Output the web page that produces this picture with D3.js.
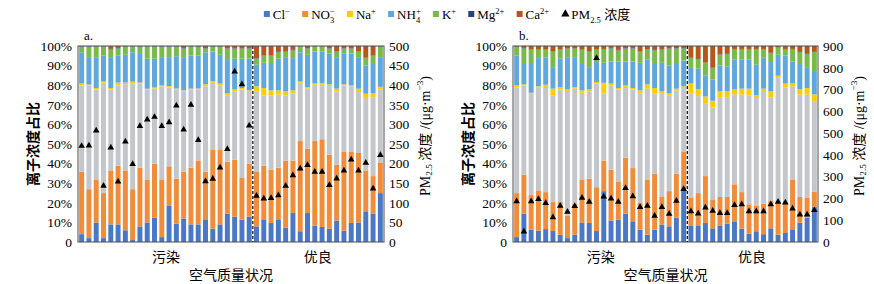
<!DOCTYPE html>
<html lang="zh">
<head>
<meta charset="UTF-8">
<title>离子浓度占比</title>
<script src="https://cdn.jsdelivr.net/npm/d3@7/dist/d3.min.js"></script>
<style>
  body { margin: 0; background: #fff; }
  text { font-family: "Liberation Serif", "Noto Sans CJK SC", serif; fill: #000; }
</style>
</head>
<body>
<svg id="chart" width="874" height="284"></svg>
<script>

// ---- data (% of total ions per sample; PM2.5 in ug/m3) ----
var ions = ["Cl", "NO3", "SO4", "Na", "NH4", "K", "Mg", "Ca"];
var samples = d3.range(1, 43);          // 42 samples per panel, first 24 = 污染
var splitAt = 24;
var groups = ["污染", "优良"];
var pctTicks = [0, 10, 20, 30, 40, 50, 60, 70, 80, 90, 100];
var pctLabels = ["0", "10%", "20%", "30%", "40%", "50%", "60%", "70%", "80%", "90%", "100%"];
var pmTicksA = [0, 50, 100, 150, 200, 250, 300, 350, 400, 450, 500];
var pmTicksB = [0, 100, 200, 300, 400, 500, 600, 700, 800, 900];

var clA  = [4,2,10,2,9,9,6,1,8,10,12.4,2.5,18.7,9.4,12,9,9,11.6,6.8,9,14.5,13,11.4,13,8,11.6,9.7,11.6,7.3,14.8,5.5,14.8,8.3,7.7,6.8,11,5.8,9.7,10,15.7,14.6,25];
var no3A = [32,25,22,23,27.6,30,30.6,26,30,22,27.6,29.5,20,23,24,29,32.7,24.4,40.2,38,26.5,29,21.3,27,27.8,27.4,27.3,26.4,34.3,26.8,46.1,32.9,43.3,44.8,37.8,28.5,40.2,36.3,35.5,20.9,19.1,15.7];
var so4A = [44,53,46,56.5,41.4,41,44.1,54,43,46,38.4,47.6,40.3,45.6,41,40,36.3,43.6,34.4,33,34,35,45.3,36.7,41.2,36,38,37.3,33.4,34.4,29.8,30.7,28.8,27.9,35.1,37.5,34,33.6,31.2,37,40.3,37.3];
var naA  = [1,0.5,0.7,0.5,0.7,1.5,0.8,1,0.5,0.4,0.6,0.4,0.7,0.5,0.5,0.4,0.5,1.1,0.9,1,1,1,0.7,0.8,2.6,3.7,2.5,2.2,2,1.5,0.6,0.8,0.6,0.9,0.9,1.4,0.6,0.4,1.7,2.2,2,1.3];
var nh4A = [16,14,15.8,13.4,15.8,13.9,14.2,15,15.1,15.3,14.7,14.5,14.8,16.5,17,17,16.9,16.3,15.1,14.7,17,15.7,15,16.2,11,12.9,14,16.2,17.5,16.5,15,16.5,16.4,16.1,15.7,16.1,15.9,16.3,16.1,14.5,15,15.2];
var kA   = [3,5.5,5.5,4.6,4,3.6,4.3,3,3.4,6.3,6.3,5.5,5.5,5,4.3,4.6,4.6,1.8,2.6,4.3,5.8,5.1,5.1,5.1,3.1,3.8,3.9,3.3,2.9,4,3,3.1,2.6,2.6,2.5,2.8,2.3,2.5,2.9,3.7,4.4,5.5];
var mgA  = [0.2,0.2,0.2,0.2,0.2,0.2,0.2,0.2,0.2,0.2,0.2,0.2,0.2,0.2,0.2,0.2,0.2,0.2,0.2,0.2,0.2,0.2,0.2,0.2,0.2,0.2,0.2,0.2,0.2,0.2,0.2,0.2,0.2,0.2,0.2,0.2,0.2,0.2,0.2,0.2,0.2,0.2];
var caA  = [0,0,0,0,1.5,1,0,0,0,0,0,0,0,0,1.2,0,0,1.2,0,0,1.2,1.2,1.2,1.2,6.3,4.6,4.6,3,2.6,2,0,1.2,0,0,1.2,2.7,1.2,1.2,2.6,6,4.6,0];
var pmA  = [245,246,284,143,241,154,256,199,296,312,319,296,305,348,287,350,260,155,161,190,237,435,402,297,118,111,112,119,143,170,187,196,179,179,145,162,182,210,182,202,136,222];

var clB  = [2.5,14.5,6.3,5.8,6.6,5.6,3.7,2,3.7,10,9.7,5.6,26,11,11.4,14.5,10.6,6.3,3.7,6.3,8.9,8,12.4,28,8.5,8.5,9.7,7,8.5,9.4,10.6,6.8,4.3,5.5,4,7,3.7,4.6,6.5,9.9,12.4,18];
var no3B = [22.5,19.9,17.7,20.6,18.9,14.8,16.7,11.6,15.9,22,22.7,22.4,15.6,26,19.6,28.5,27.2,13.7,28.3,28.7,14.1,18,22.6,18,14.3,16.5,24,14.8,14.5,13.6,18.9,18.7,15,12.9,15.6,14.3,17.1,16.2,25.5,13.1,10.1,7.6];
var so4B = [54,45.6,51.8,52.5,53.2,54.6,57.6,63.1,58.8,44.3,44.6,53,34.4,43,47,35.7,40.2,56,46.4,40.8,52.8,49,42.5,32.7,53,49.6,37.3,46.9,51,51,46,49.8,55.7,55.2,57.1,52.7,63.5,58.2,47.6,52.3,52.8,46.4];
var naB  = [1,0.6,0.5,0.7,1.7,3.4,1.2,1.3,0.8,1.2,1,0.8,5.4,1,0.7,1.3,0.7,1.5,2.2,2.9,1.2,1,0.9,0.9,5.2,3.4,3.4,3.5,3,3,2.5,3.1,3.4,1.4,1.7,3,0.7,2,1.7,2.7,3.4,3.5];
var nh4B = [15.4,10.4,14.7,14.4,14,11,14.5,16.5,15.3,13.5,11,10.2,10.2,11.3,13.6,12.3,13.6,14.1,12.8,12.8,14.6,14.3,12.6,13.2,8.4,10.6,10.6,10.8,13.3,12.8,15.4,15,15,15.6,15.8,15,10.7,14.4,11,13,10.7,11.9];
var kB   = [4.6,8,7.3,4.3,3.9,8,4.6,4.3,4.3,7.3,8.4,6.3,6.9,6.7,5.7,6.5,6.5,5.8,4.9,6.5,6.7,8.5,7.8,6.2,4.6,4.8,6.6,5.9,5.4,6.2,5.1,5.1,5.1,7.9,4.3,4.6,3.6,3.1,6.2,6,6.6,9.6];
var mgB  = [0.2,0.2,0.2,0.2,0.2,0.2,0.2,0.2,0.2,0.2,0.2,0.2,0.2,0.2,0.2,0.2,0.2,0.2,0.2,0.2,0.2,0.2,0.2,0.2,0.2,0.2,0.2,0.2,0.2,0.2,0.2,0.2,0.2,0.2,0.2,0.2,0.2,0.2,0.2,0.2,0.2,0.2];
var caB  = [0,1,1.7,1.7,1.7,2.6,1.7,1.2,1.2,1.7,2.6,1.7,1.5,1,2,1.2,1.2,2.6,1.7,2,1.7,1.2,1.2,1,6,6.6,8.4,11.1,4.3,4,1.5,1.5,1.5,1.5,1.5,3.4,0.7,1.5,1.5,3,4,3];
var pmB  = [187,48,187,197,179,113,166,139,165,203,184,845,209,199,184,248,210,160,166,120,160,129,189,243,141,130,158,143,133,133,169,173,141,141,141,173,184,181,153,126,126,146];

// legend ("_" = subscript, "^" = superscript); SO4 has no legend entry in the original
var legendKeys = ["Cl", "NO3", "Na", "NH4", "K", "Mg", "Ca"];
var legendLabels = [["Cl","^−"], ["NO","_3","^−"], ["Na","^+"], ["NH","_4","^+"], ["K","^+"], ["Mg","^2+"], ["Ca","^2+"]];
var pmLegend = ["PM","_2.5"," 浓度"];
var leftTitle = "离子浓度占比";
var rightTitle = ["PM","_2.5"," 浓度 /(μg·m","^−3",")"];
var xTitle = "空气质量状况";

var colors = {
    Cl: "#4a78c6", NO3: "#f08c3a", SO4: "#c3c7cb", Na: "#ffcc00",
    NH4: "#5fa7df", K: "#79ba4a", Mg: "#264478", Ca: "#b5561f"
};

var svg = d3.select("#chart");
var plotTop = 46, plotBottom = 242;

// writes parts with sub/superscripts into a <text>
function richText(sel, parts, size) {
    var shift = 0, prev = null;
    parts.forEach(function (p) {
        var kind = p[0] === "_" ? "sub" : p[0] === "^" ? "sup" : null;
        var str = kind ? p.slice(1) : p;
        var target = kind === "sup" ? -size * 0.38 : kind === "sub" ? size * 0.28 : 0;
        var ts = sel.append("tspan").text(str).attr("dy", target - shift);
        if (kind) ts.style("font-size", (size * 0.66) + "px");
        // superscript right after a subscript sits above it
        if (kind === "sup" && prev && prev.kind === "sub") {
            ts.attr("dx", -prev.node.getComputedTextLength());
        }
        shift = target;
        prev = {kind: kind, node: ts.node()};
    });
}

function drawPanel(p) {
    var rows = samples.map(function (s, i) {
        var r = {id: s, pm: p.pm[i]};
        ions.forEach(function (k) { r[k] = p.series[k][i]; });
        return r;
    });

    var x = d3.scaleBand().domain(samples).range([p.x0, p.x1])
        .paddingInner(0.32).paddingOuter(0.16);
    var y = d3.scaleLinear().domain([0, 1]).range([plotBottom, plotTop]);
    var yp = d3.scaleLinear().domain([0, p.pmMax]).range([plotBottom, plotTop]);

    var stack = d3.stack().keys(ions).offset(d3.stackOffsetExpand)(rows);

    var g = svg.append("g");
    g.selectAll("g.layer")
        .data(stack)
        .enter().append("g")
        .attr("class", "layer")
        .attr("fill", function (d) { return colors[d.key]; })
        .selectAll("rect")
        .data(function (d) { return d; })
        .enter().append("rect")
        .attr("x", function (d) { return x(d.data.id); })
        .attr("width", x.bandwidth())
        .attr("y", function (d) { return y(d[1]); })
        .attr("height", function (d) { return Math.max(0, y(d[0]) - y(d[1])); });

    // frame
    g.append("rect")
        .attr("x", p.x0).attr("y", plotTop)
        .attr("width", p.x1 - p.x0).attr("height", plotBottom - plotTop)
        .attr("fill", "none").attr("stroke", "#4d4d4d").attr("stroke-width", 1);

    // 污染 / 优良 divider
    var xs = x(samples[splitAt]) - x.step() * x.paddingInner() / 2;
    g.append("line")
        .attr("x1", xs).attr("x2", xs).attr("y1", plotTop).attr("y2", plotBottom)
        .attr("stroke", "#000").attr("stroke-width", 1.2)
        .attr("stroke-dasharray", "3,2");

    // PM2.5 triangles
    g.selectAll("path.pm")
        .data(rows)
        .enter().append("path")
        .attr("class", "pm")
        .attr("d", d3.symbol(d3.symbolTriangle, 19))
        .attr("transform", function (d) {
            return "translate(" + (x(d.id) + x.bandwidth() / 2) + "," + yp(d.pm) + ")";
        })
        .attr("fill", "#000");

    // axes
    var yAxis = d3.axisLeft(y)
        .tickValues(pctTicks.map(function (v) { return v / 100; }))
        .tickFormat(function (d, i) { return pctLabels[i]; })
        .tickSize(0).tickPadding(6);
    var ga = g.append("g").attr("transform", "translate(" + p.x0 + ",0)").call(yAxis);
    ga.select(".domain").remove();
    ga.attr("font-family", null).attr("font-size", null);
    ga.selectAll("text").style("font-size", "13.5px");

    var pmAxis = d3.axisRight(yp).tickValues(p.pmTicks).tickSize(0).tickPadding(5);
    var gb = g.append("g").attr("transform", "translate(" + p.x1 + ",0)").call(pmAxis);
    gb.select(".domain").remove();
    gb.attr("font-family", null).attr("font-size", null);
    gb.selectAll("text").style("font-size", "13.5px");

    // panel tag
    g.append("text").attr("x", p.x0 + 6).attr("y", 40)
        .style("font-size", "13px").text(p.tag);

    // group labels under the bars
    var centers = [
        (x(samples[0]) + xs) / 2,
        (xs + x(samples[samples.length - 1]) + x.bandwidth()) / 2
    ];
    groups.forEach(function (name, i) {
        g.append("text").attr("x", centers[i]).attr("y", 257)
            .attr("text-anchor", "middle").attr("dominant-baseline", "central")
            .style("font-size", "14px").text(name);
    });
    g.append("text").attr("x", (p.x0 + p.x1) / 2).attr("y", 275)
        .attr("text-anchor", "middle").attr("dominant-baseline", "central")
        .style("font-size", "14px").text(xTitle);

    // left title
    g.append("text")
        .attr("transform", "translate(" + (p.x0 - 45) + "," + ((plotTop + plotBottom) / 2) + ") rotate(-90)")
        .attr("text-anchor", "middle").attr("dominant-baseline", "central")
        .style("font-size", "14px").style("font-weight", "bold").text(leftTitle);

    // right title
    var rt = g.append("text")
        .attr("transform", "translate(" + (p.x1 + 41) + "," + ((plotTop + plotBottom) / 2 - 8) + ") rotate(-90)")
        .attr("text-anchor", "middle").attr("dominant-baseline", "central")
        .style("font-size", "14px");
    richText(rt, rightTitle, 14);
}

drawPanel({
    tag: "a.", x0: 78, x1: 384, pmMax: 500, pmTicks: pmTicksA, pm: pmA,
    series: {Cl: clA, NO3: no3A, SO4: so4A, Na: naA, NH4: nh4A, K: kA, Mg: mgA, Ca: caA}
});
drawPanel({
    tag: "b.", x0: 513, x1: 818, pmMax: 900, pmTicks: pmTicksB, pm: pmB,
    series: {Cl: clB, NO3: no3B, SO4: so4B, Na: naB, NH4: nh4B, K: kB, Mg: mgB, Ca: caB}
});

// legend, flowed left to right then centred
var lg = svg.append("g");
var cx = 0;
legendKeys.forEach(function (k, i) {
    var item = lg.append("g").attr("transform", "translate(" + cx + ",0)");
    item.append("rect").attr("x", 0).attr("y", 11).attr("width", 6).attr("height", 6)
        .attr("fill", colors[k]);
    var t = item.append("text").attr("x", 9).attr("y", 19).style("font-size", "13px");
    richText(t, legendLabels[i], 13);
    cx += item.node().getBBox().width + 12;
});
var pmItem = lg.append("g").attr("transform", "translate(" + cx + ",0)");
pmItem.append("path").attr("d", d3.symbol(d3.symbolTriangle, 30))
    .attr("transform", "translate(4,14)").attr("fill", "#000");
var pt = pmItem.append("text").attr("x", 10).attr("y", 19).style("font-size", "13px");
richText(pt, pmLegend, 13);
var lw = lg.node().getBBox().width;
lg.attr("transform", "translate(" + (447 - lw / 2) + ",0)");

</script>
</body>
</html>
